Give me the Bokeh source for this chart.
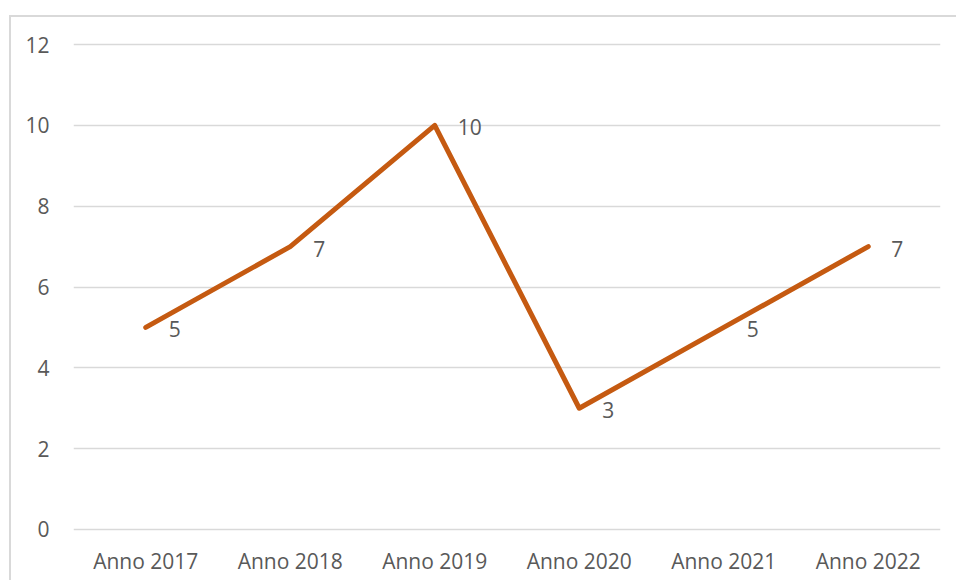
from bokeh.plotting import figure
from bokeh.models import Range1d, FactorRange, FixedTicker, ColumnDataSource
from bokeh.core.properties import value
from bokeh.embed import file_html
from bokeh.resources import INLINE

categories = ["Anno 2017", "Anno 2018", "Anno 2019", "Anno 2020", "Anno 2021", "Anno 2022"]
values = [5, 7, 10, 3, 5, 7]
y_ticks = [0, 2, 4, 6, 8, 10, 12]

FONT = "Open Sans"
TEXT_COLOR = "#595959"
GRID = "#d9d9d9"
LINE = "#C55A11"

p = figure(width=956, height=580, x_range=FactorRange(*categories, range_padding=0),
           y_range=Range1d(-0.05, 12.05), output_backend="svg", toolbar_location=None,
           min_border_left=73, min_border_right=16, min_border_top=42, min_border_bottom=49)
p.outline_line_color = None
p.background_fill_color = "white"
p.border_fill_color = None
p.styles = {
    "background": "linear-gradient(#d9d9d9, #d9d9d9) 9px 15px / 2px 2000px no-repeat, "
                  "linear-gradient(#d9d9d9, #d9d9d9) 9px 15px / 2000px 2px no-repeat, white"
}

src = ColumnDataSource(dict(x=categories, y=values, t=[str(v) for v in values]))
p.line("x", "y", source=src, line_color=LINE, line_width=5, line_join="round", line_cap="round")
p.text("x", "y", text="t", source=src, x_offset=23, y_offset=2, text_align="left",
       text_baseline="middle", text_font=value(FONT), text_font_size="21px", text_color=TEXT_COLOR)

p.xgrid.grid_line_color = None
p.ygrid.grid_line_color = GRID
p.ygrid.grid_line_width = 1.5
p.yaxis.ticker = FixedTicker(ticks=y_ticks)

for ax in (p.xaxis[0], p.yaxis[0]):
    ax.axis_line_color = None
    ax.major_tick_line_color = None
    ax.minor_tick_line_color = None
    ax.major_label_text_font = FONT
    ax.major_label_text_font_size = "21px"
    ax.major_label_text_color = TEXT_COLOR
p.yaxis.major_label_standoff = 18
p.xaxis.major_label_standoff = 9

open("out.html", "w").write(file_html(p, INLINE))
